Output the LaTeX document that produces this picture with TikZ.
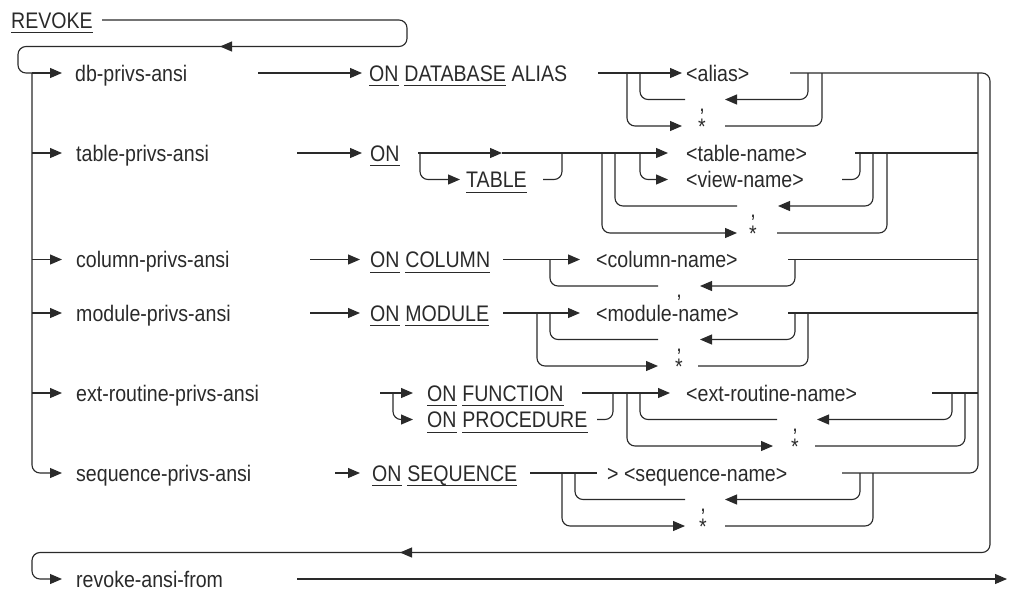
\documentclass[tikz,border=0pt]{standalone}
\usepackage{fontspec}
\setmainfont{Liberation Sans}[FakeStretch=0.87]
\usepackage{tikz}
\usetikzlibrary{arrows.meta,positioning}
\definecolor{ink}{HTML}{2A2A2A}
\newcommand{\rrfont}{\fontsize{22.5}{25}\selectfont}
\newcommand{\kwline}[1]{\draw[uline] ([yshift=-4.5pt]#1.south west) -- ([yshift=-4.5pt]#1.south east);}

\begin{document}
\begin{tikzpicture}[x=1pt,y=-1pt,
			rail/.style={draw=ink,line width=1.15pt},
			rnd/.style={rail,rounded corners=8pt},
			arr/.style={rail,-{Triangle[length=12pt,width=10pt]}},
			rarr/.style={rnd,-{Triangle[length=12pt,width=10pt]}},
			lbl/.style={font=\rrfont,text=ink,inner sep=0pt,text height=16.1pt,text depth=0pt,anchor=west},
			sym/.style={font=\rrfont,text=ink,inner sep=0pt,anchor=base},
			uline/.style={draw=ink,line width=1pt}]
			\useasboundingbox (0,0) rectangle (1009,590);
			%% head and left collector
			\node[lbl] (revoke) at (11,20) {REVOKE}; \kwline{revoke}
			\draw[rnd] (102,20) -- (407,20) -- (407,46.5) -- (18,46.5) -- (18,73) -- (40,73);
			\draw[arr] (300,46.5) -- (220,46.5);
			\draw[arr] (32,73) -- (62,73);
			\draw[rarr] (32,73) -- (32,473) -- (62,473);
			\foreach \y in {153,259.5,313,393} \draw[arr] (32,\y) -- (62,\y);
			\node[lbl] (dbp)  at (75,73)    {db-privs-ansi};
			\node[lbl] (tabp) at (76,153)   {table-privs-ansi};
			\node[lbl] (colp) at (76,259.5) {column-privs-ansi};
			\node[lbl] (modp) at (76,313)   {module-privs-ansi};
			\node[lbl] (extp) at (76,393)   {ext-routine-privs-ansi};
			\node[lbl] (seqp) at (76,473)   {sequence-privs-ansi};
			%% right collectors and return
			\draw[rnd] (842,473) -- (978,473) -- (978,73);
			\draw[rarr] (790,73) -- (990,73) -- (990,552.5) -- (32,552.5) -- (32,579) -- (62,579);
			\draw[arr] (480,552.5) -- (400,552.5);
			\node[lbl] (raf) at (76,579) {revoke-ansi-from};
			\draw[arr] (297,579) -- (1007,579);
			%% database
			\draw[arr] (258,73) -- (362,73);
			\node[lbl] (dbon) at (369,73) {ON}; \kwline{dbon}
			\node[lbl,right=5.4pt of dbon] (dbdb) {DATABASE}; \kwline{dbdb}
			\node[lbl,right=5.4pt of dbdb] (dbal) {ALIAS};
			\draw[arr] (598,73) -- (682,73);
			\node[lbl] (alias) at (686,73) {<alias>};
			\draw[rarr] (627,73) -- (627,126) -- (682,126);
			\draw[rnd] (640,73) -- (640,99.5) -- (685,99.5);
			\node[sym] (dbcm) at (702,111) {,};
			\node[sym] (dbst) at (702,134) {*};
			\draw[rarr] (808,73) -- (808,99.5) -- (725,99.5);
			\draw[rnd] (725,126) -- (822,126) -- (822,73);
			%% table
			\draw[arr] (297,153) -- (362,153);
			\node[lbl] (tbon) at (370,153) {ON}; \kwline{tbon}
			\draw[arr] (418,153) -- (502,153);
			\draw[arr] (502,153) -- (668,153);
			\draw[rarr] (420,153) -- (420,179.5) -- (460,179.5);
			\node[lbl] (tbtb) at (466,179.5) {TABLE}; \kwline{tbtb}
			\draw[rnd] (543,179.5) -- (562,179.5) -- (562,153);
			\draw[rarr] (602,153) -- (602,233) -- (737,233);
			\draw[rnd] (615,153) -- (615,206) -- (737,206);
			\draw[rarr] (640,153) -- (640,179.5) -- (668,179.5);
			\node[lbl] (tname) at (686,153) {<table-name>};
			\node[lbl] (vname) at (686,179.5) {<view-name>};
			\node[sym] (tbcm) at (753,217) {,};
			\node[sym] (tbst) at (753,241) {*};
			\draw[rarr] (873,153) -- (873,206) -- (778,206);
			\draw[rnd] (777,233) -- (887,233) -- (887,153);
			\draw[rnd] (842,179.5) -- (860,179.5) -- (860,153);
			\draw[rail] (855,153) -- (978,153);
			%% column
			\draw[arr] (310,259.5) -- (360,259.5);
			\node[lbl] (clon) at (370,259.5) {ON}; \kwline{clon}
			\node[lbl,right=5.4pt of clon] (clcl) {COLUMN}; \kwline{clcl}
			\draw[arr] (503,259.5) -- (580,259.5);
			\node[lbl] (cname) at (596,259.5) {<column-name>};
			\draw[rnd] (550,259.5) -- (550,286) -- (658,286);
			\node[sym] (clcm) at (679,297.5) {,};
			\draw[rarr] (795,259.5) -- (795,286) -- (700,286);
			\draw[rail] (788,259.5) -- (978,259.5);
			%% module
			\draw[arr] (310,313) -- (360,313);
			\node[lbl] (mdon) at (370,313) {ON}; \kwline{mdon}
			\node[lbl,right=5.4pt of mdon] (mdmd) {MODULE}; \kwline{mdmd}
			\draw[arr] (503,313) -- (580,313);
			\node[lbl] (mname) at (596,313) {<module-name>};
			\draw[rarr] (537,313) -- (537,366) -- (658,366);
			\draw[rnd] (550,313) -- (550,339.5) -- (658,339.5);
			\node[sym] (mdcm) at (679,351) {,};
			\node[sym] (mdst) at (679,374) {*};
			\draw[rarr] (795,313) -- (795,339.5) -- (700,339.5);
			\draw[rnd] (698,366) -- (808,366) -- (808,313);
			\draw[rail] (788,313) -- (978,313);
			%% external routine
			\draw[arr] (380,393) -- (413,393);
			\draw[rarr] (393,393) -- (393,419.5) -- (413,419.5);
			\node[lbl] (fnon) at (427,393) {ON}; \kwline{fnon}
			\node[lbl,right=5.4pt of fnon] (fnfn) {FUNCTION}; \kwline{fnfn}
			\node[lbl] (pron) at (427,419.5) {ON}; \kwline{pron}
			\node[lbl,right=5.4pt of pron] (prpr) {PROCEDURE}; \kwline{prpr}
			\draw[arr] (582,393) -- (670,393);
			\node[lbl] (ename) at (686,393) {<ext-routine-name>};
			\draw[rnd] (597,419.5) -- (613,419.5) -- (613,393);
			\draw[rarr] (627,393) -- (627,446) -- (773,446);
			\draw[rnd] (640,393) -- (640,419.5) -- (777,419.5);
			\node[sym] (excm) at (795,431) {,};
			\node[sym] (exst) at (795,454) {*};
			\draw[rarr] (952,393) -- (952,419.5) -- (817,419.5);
			\draw[rnd] (815,446) -- (965,446) -- (965,393);
			\draw[rail] (932,393) -- (978,393);
			%% sequence
			\draw[arr] (335,473) -- (360,473);
			\node[lbl] (sqon) at (372,473) {ON}; \kwline{sqon}
			\node[lbl,right=5.4pt of sqon] (sqsq) {SEQUENCE}; \kwline{sqsq}
			\draw[rail] (530,473) -- (597,473);
			\node[lbl] (sname) at (607,473) {> <sequence-name>};
			\draw[rarr] (562,473) -- (562,526) -- (685,526);
			\draw[rnd] (575,473) -- (575,499.5) -- (685,499.5);
			\node[sym] (sqcm) at (703,511) {,};
			\node[sym] (sqst) at (703,534) {*};
			\draw[rarr] (860,473) -- (860,499.5) -- (725,499.5);
			\draw[rnd] (725,526) -- (873,526) -- (873,473);
		\end{tikzpicture}
\end{document}
